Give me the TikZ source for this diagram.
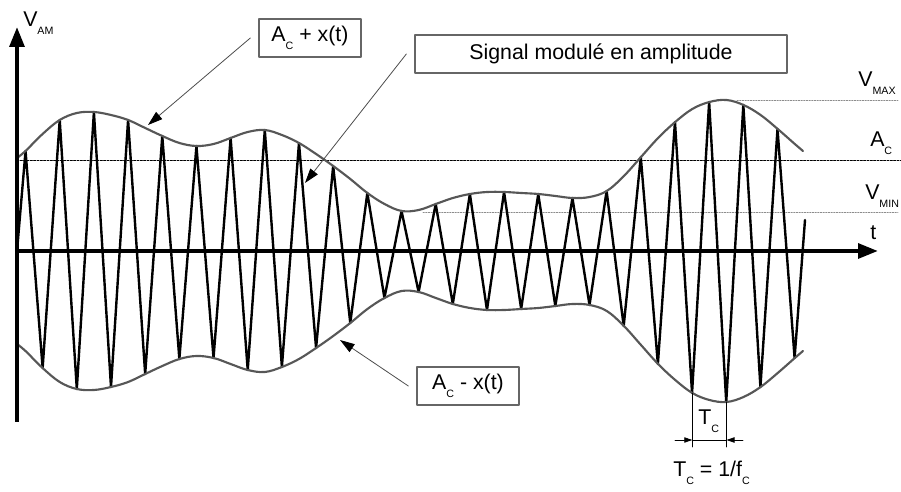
\documentclass[tikz,border=0pt]{standalone}
\usepackage{fontspec}
\setmainfont{Liberation Sans}
\usetikzlibrary{arrows.meta}
\newcommand{\lowidx}[1]{\raisebox{-6pt}{\fontsize{8}{9}\selectfont #1}}
\begin{document}
\begin{tikzpicture}[x=0.75pt,y=0.75pt,line cap=round,line join=round,
  font=\fontsize{16}{19}\selectfont,
  axis/.style={line width=3pt,line cap=butt,-{Triangle[length=15pt,width=11pt]}},
  carrier/.style={line width=1.8pt},
  envelope/.style={line width=1.6pt,draw=black!66},
  level/.style={line width=0.6pt,draw=black!45,dash pattern=on 1pt off 1pt},
  labelbox/.style={draw=black!60,line width=0.9pt,minimum height=28.5pt,inner sep=0pt,outer xsep=6.5pt},
  tag/.style={anchor=base west,inner sep=0pt},
  pointer/.style={line width=0.6pt,draw=black!70,-{Triangle[length=11pt,width=7pt,color=black]}},
  dimarrow/.style={line width=0.6pt,-{Triangle[length=6pt,width=4pt]}}]
\path[use as bounding box] (-17,-241) rectangle (884,251);
% Reference levels A_C, V_MAX, V_MIN.
\draw[line width=0.7pt,dash pattern=on 1.5pt off 1pt] (0,91) -- (884,91);
\draw[level] (720,151) -- (881,151);
\draw[level] (406,39) -- (881,39);
% Modulated carrier, one peak or trough per amplitude.
\coordinate (O) at (0,0);
\coordinate (carrier-end) at (788,31);
\draw[carrier] (O)
  \foreach \amp [count=\k from 0] in {100,-117,131,-138,139,-136,131,-123,115,-108,105,-107,113,-119,121,-116,108,-97,85,-72,58,-47,40,-41,47,-53,57,-59,59,-58,57,-55,53,-54,60,-75,94,-113,129,-142,149,-151,146,-136,122,-107}
  { -- ({(\k+0.5)*17.09},\amp) }
  -- (carrier-end);
% Envelopes A_C + x(t) and A_C - x(t).
\foreach \s in {1,-1}
  \draw[envelope,yscale=\s] plot[smooth,tension=0.6] coordinates {(0,93) (8.5,100) (25.6,117) (42.7,131) (59.8,138) (76.9,139) (94,136) (111.1,131) (128.2,123) (145.3,115) (162.4,108) (179.5,105) (196.6,107) (213.6,113) (230.7,119) (247.8,121) (264.9,116) (282,108) (299.1,97) (316.2,85) (333.3,72) (350.4,58) (367.5,47) (384.6,40) (401.7,41) (418.8,47) (435.9,53) (453,57) (470.1,59) (487.2,59) (504.3,58) (521.4,57) (538.5,55) (555.6,53) (572.7,54) (589.8,60) (606.9,75) (624,94) (641.1,113) (658.2,129) (675.3,142) (692.4,149) (709.5,151) (726.5,146) (743.6,136) (760.7,122) (777.8,107) (786,100)};
% Axes.
\coordinate (yaxis-foot) at (0,-171);
\coordinate (yaxis-top) at (0,224);
\coordinate (taxis-end) at (861,0);
\draw[axis] (yaxis-foot) -- (yaxis-top);
\draw[axis] (O) -- (taxis-end);
% Axis and level labels.
\node[tag] (vam) at (6,224) {V\lowidx{AM}};
\node[tag] (tlabel) at (853,11) {t};
\node[tag] (vmax) at (841,164) {V\lowidx{MAX}};
\node[tag] (aclevel) at (853,104) {A\lowidx{C}};
\node[tag] (vmin) at (848,51) {V\lowidx{MIN}};
% Label boxes and their pointers.
\node[labelbox,minimum width=76.5pt] (aplus) at (293,213) {A\lowidx{C} + x(t)};
\node[labelbox,minimum width=279pt] (signal) at (584,197) {Signal modulé en amplitude};
\node[labelbox,minimum width=76.5pt] (aminus) at (451,-135) {A\lowidx{C} - x(t)};
\coordinate (aplus-tip) at (131,126);
\coordinate (signal-tip) at (288,68);
\coordinate (aminus-tip) at (323,-89);
\draw[pointer] (aplus.west) -- (aplus-tip);
\draw[pointer] (signal.west) -- (signal-tip);
\draw[pointer] (aminus.west) -- (aminus-tip);
% Carrier period T_C between two troughs.
\coordinate (tc-a) at (675.3,-142);
\coordinate (tc-b) at (709.5,-151);
\coordinate (tc-a-foot) at (675.3,-196);
\coordinate (tc-b-foot) at (709.5,-196);
\coordinate (dim-a) at (675.3,-189);
\coordinate (dim-b) at (709.5,-189);
\coordinate (dim-l) at (658,-189);
\coordinate (dim-r) at (726,-189);
\draw[line width=0.6pt] (tc-a) -- (tc-a-foot);
\draw[line width=0.6pt] (tc-b) -- (tc-b-foot);
\draw[line width=0.6pt] (dim-a) -- (dim-b);
\draw[dimarrow] (dim-l) -- (dim-a);
\draw[dimarrow] (dim-r) -- (dim-b);
\node[tag] (tc) at (681,-174) {T\lowidx{C}};
\node[tag] (tcform) at (656,-226) {T\lowidx{C} = 1/f\lowidx{C}};
\end{tikzpicture}
\end{document}
